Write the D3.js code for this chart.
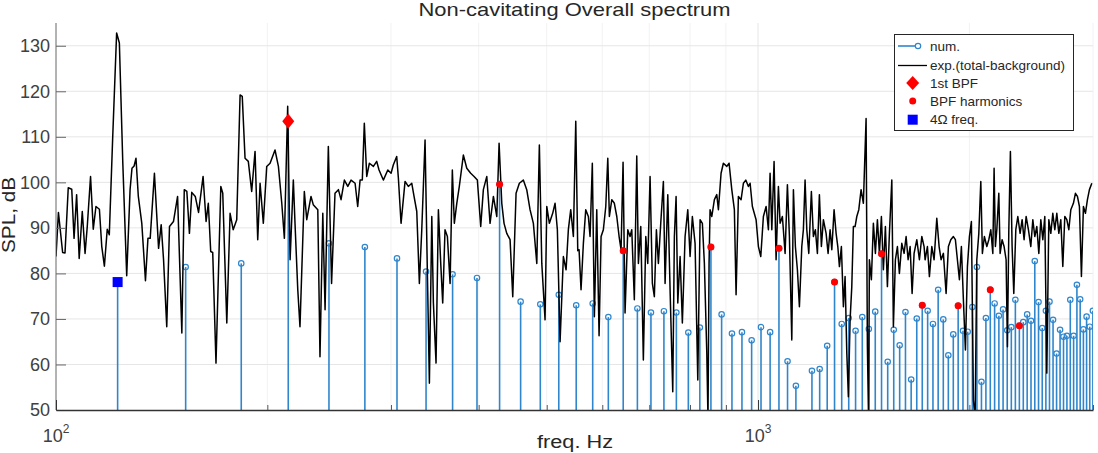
<!DOCTYPE html>
<html><head><meta charset="utf-8">
<script src="https://cdn.jsdelivr.net/npm/d3@7"></script>
<style>
html,body{margin:0;padding:0;background:#fff;}
svg{display:block;font-family:"Liberation Sans",Arial,Helvetica,sans-serif;}
</style></head><body>
<svg id="chart" width="1098" height="453"></svg>
<script>
// ---------------- DATA ----------------
const shaftFreq = 30.6; // Hz (Ω)
const numOrders = [4,5,6,7,8,9,10,11,12,13,14,15,16,17,18,19,20,21,22,23,24,25,26,27,28,29,30,31,32,33,
  34,35,36,37,38,39,40,41,42,43,44,45,46,47,48,49,50,51,52,53,54,55,56,57,58,59,60,61,62,63,
  64,65,66,67,68,69,70,71,72,73,74,75,76,77,78,79,80,81,82,83,84,85,86,87,88,89,90,91,92,93,94,95,96,97,98];
const numSPL = [78.1,81.4,82.2,113.4,86.6,85.8,83.3,80.4,79.8,79.0,
  99.6,73.8,73.2,75.3,73.0,73.4,70.4,85.0,72.3,71.4,
  71.7,71.4,67.0,68.1,85.8,71.0,66.8,67.1,65.3,68.2,
  67.1,85.5,60.7,55.3,48.0,58.6,59.0,64.1,78.1,68.9,
  70.2,67.4,70.4,67.8,71.6,84.3,60.6,67.6,64.2,71.5,
  56.7,70.1,73.0,71.8,68.9,76.4,69.9,62.0,66.6,72.9,
  67.4,67.2,72.6,81.4,56.2,70.2,76.4,73.4,70.7,72.1,
  67.5,68.2,74.2,68.5,69.3,71.0,69.6,82.7,73.7,68.0,
  71.8,73.8,69.8,62.4,67.6,66.1,66.3,74.2,66.3,77.5,74.3,67.7,70.5,68.3,71.8];

const bpf1Freq = [214.2];
const bpf1SPL = [113.4];
const bpfHarmFreq = [428.4,642.6,856.8,1071.0,1285.2,1499.4,1713.6,1927.8,2142.0,2356.2];
const bpfHarmSPL  = [99.6,85.0,85.8,85.5,78.1,84.3,73.0,72.9,76.4,68.5];
const fourOmegaFreq = [122.4];
const fourOmegaSPL = [78.1];

const expFreq = [100,100.8,102.2,103.0,104.1,105.3,106.1,107.0,107.9,109.0,110.0,110.8,112.0,113.0,114.0,115.3,116.2,117.2,118.3,119.1,
120.4,122.0,123.1,124.5,126.1,127.5,128.3,129.2,130.0,131.0,132.5,134.1,135.2,136.2,138.1,140.0,141.2,142.3,143.8,145.1,
147.0,149.0,151.1,152.3,153.6,154.9,156.1,157.9,159.6,162.0,163.6,164.8,166.1,167.2,169.0,171.7,172.8,175.1,177.0,178.8,
180.9,182.9,184.2,185.9,187.9,190.0,192.1,193.8,195.3,197.4,199.6,201.8,205.1,207.4,209.7,211.5,213.8,215.5,217.8,219.0,
221.0,222.6,225.8,227.6,230.8,232.5,236.0,237.7,239.9,241.7,244.3,246.9,249.7,252.5,254.7,257.5,260.4,263.2,266.7,269.0,
271.1,273.1,274.9,277.1,279.5,283.2,286.3,288.5,292.6,296.9,300.1,302.3,305.7,307.4,310.1,314.2,317.6,321.2,323.6,326.5,
329.3,331.9,335.5,338.0,340.3,343.0,344.8,347.8,350.5,353.2,355.5,358.2,361.0,364.2,366.9,369.3,372.3,375.4,380.4,384.7,
389.7,394.0,398.3,402.7,406.2,410.8,415.2,419.8,424.5,427.7,431.5,434.7,438.6,443.4,447.3,452.2,457.1,463.1,468.3,473.4,
478.6,484.0,488.1,492.0,497.3,500.1,504.4,509.9,513.9,517.8,522.4,528.1,532.8,536.8,541.0,545.7,550.0,553.6,556.0,559.6,
563.9,568.3,573.2,576.4,580.7,584.6,589.2,593.7,597.6,602.1,606.9,610.9,614.1,619.0,624.2,629.2,634.0,638.1,642.3,646.5,
652.3,657.2,660.9,666.5,671.8,675.4,680.7,686.5,692.0,696.5,701.8,707.1,711.7,716.5,721.2,726.8,733.1,737.2,743.8,749.4,
756.0,760.0,764.3,768.6,774.4,780.2,787.2,794.2,800.2,806.2,813.4,820.7,826.9,833.1,838.6,845.3,848.6,851.6,854.4,859.3,
866.6,873.4,878.1,885.8,892.5,902.6,909.4,917.5,925.3,930.5,937.6,945.9,953.1,960.6,968.9,974.3,981.6,993.6,1001.2,1009.0,
1017.7,1026.8,1034.6,1040.3,1046.2,1054.0,1061.0,1069.1,1075.0,1083.1,1092.8,1101.1,1108.4,1117.1,1123.0,1130.3,1137.8,1145.3,1154.3,1160.3,
1166.8,1173.4,1181.1,1191.2,1199.0,1206.9,1214.9,1222.9,1230.9,1239.0,1250.1,1258.3,1266.6,1273.7,1283.2,1291.8,1299.0,1305.9,1314.4,1323.1,
1330.4,1337.9,1344.9,1352.4,1360.0,1367.1,1374.8,1382.5,1391.6,1402.1,1412.7,1425.3,1431.4,1436.9,1440.8,1450.2,1459.8,1469.5,1479.2,1488.9,
1498.7,1508.5,1518.5,1528.5,1538.6,1550.8,1558.8,1569.1,1579.5,1589.8,1602.4,1614.5,1625.2,1635.9,1646.7,1657.5,1668.3,1683.3,1697.7,1711.1,
1723.9,1729.7,1742.9,1754.3,1768.2,1781.4,1797.3,1811.0,1822.8,1836.6,1853.0,1867.1,1881.7,1897.8,1910.4,1923.0,1935.7,1948.3,1961.1,1974.1,
1987.2,2000.3,2013.3,2026.6,2038.0,2049.4,2062.9,2076.4,2087.2,2100.9,2117.8,2131.7,2145.7,2159.8,2168.9,2178.3,2188.3,2202.7,2212.1,2226.7,
2241.2,2256.1,2265.8,2276.2,2288.1,2300.9,2313.6,2329.0,2344.4,2362.1,2377.7,2393.1,2409.1,2427.4,2446.4,2462.6,2478.7,2495.1,2511.6,2528.0,
2544.7,2561.3,2578.3,2595.3,2612.3,2629.5,2646.8,2664.3,2681.9,2699.4,2717.2,2735.0,2753.2,2771.3,2789.5,2813.4,2832.0,2850.7,2869.4,2888.2,
2907.2,2926.4,2945.7,2965.1,2988.5];
const expSPL = [83.7,93.4,84.6,84.5,98.8,98.5,87.7,97.3,83.3,93.6,84.4,90.3,101.3,89.7,94.7,94.1,85.9,81.6,89.7,88.5,
109.3,132.8,130.6,104.2,79.5,98.4,103.1,103.6,105.3,96.9,91.0,78.4,87.7,87.7,102.0,85.5,90.7,83.0,68.3,90.3,
91.4,96.9,66.9,98.4,98.0,88.8,97.8,96.9,93.4,101.3,91.4,95.4,84.8,84.6,60.3,99.1,97.6,69.1,93.2,89.6,
91.8,119.2,118.9,105.3,104.6,98.0,106.8,87.4,99.8,91.0,103.5,104.2,107.1,103.5,95.4,87.7,116.7,83.0,100.5,91.0,
76.4,68.3,98.0,91.8,96.9,95.1,94.0,61.7,93.2,72.0,107.9,77.8,97.6,98.4,96.2,100.5,99.1,100.5,99.8,94.7,
100.5,100.5,113.0,101.3,104.2,103.5,104.6,102.7,100.5,102.7,102.0,103.8,105.7,100.9,91.0,100.2,99.1,99.8,96.9,93.6,
77.8,89.6,109.3,80.8,55.9,92.5,73.5,60.3,94.0,82.2,73.5,89.6,88.1,77.8,102.7,91.0,95.4,99.1,106.0,103.1,
102.0,101.3,100.5,90.3,98.4,101.3,91.0,96.9,92.5,108.6,95.4,91.0,88.8,87.4,74.9,97.6,99.8,100.5,98.4,94.0,
91.0,82.2,108.2,82.2,69.8,94.7,91.0,93.2,95.4,89.6,65.0,83.7,80.8,89.6,94.0,88.1,113.4,85.0,85.2,76.4,
86.6,94.0,92.5,88.1,104.2,70.5,94.0,66.3,88.1,89.6,94.7,105.3,92.5,96.2,95.4,92.5,88.1,85.2,104.4,71.3,
89.6,88.1,89.6,74.2,105.8,82.2,90.3,61.0,88.1,82.2,101.3,77.8,74.9,89.6,82.2,91.0,100.2,77.8,97.3,76.4,
54.0,88.1,96.9,73.5,83.7,69.1,88.1,94.0,83.7,92.5,86.6,56.6,91.8,91.0,82.2,62.5,48.0,82.2,94.0,92.5,
96.2,97.3,94.0,102.0,104.2,103.5,104.2,98.4,94.0,75.3,96.9,96.2,99.8,100.5,99.1,99.8,94.7,91.8,85.9,83.7,
92.5,94.7,89.6,102.0,89.6,104.6,83.0,99.1,91.0,92.5,84.4,99.5,88.1,65.4,98.4,85.9,80.8,72.7,85.9,89.6,
100.5,89.6,84.4,98.0,88.1,89.6,84.4,97.3,85.9,91.8,88.8,84.4,89.6,85.2,94.0,88.8,85.9,81.5,85.9,72.7,
79.3,62.5,52.9,69.8,77.1,90.3,90.3,92.5,94.0,98.4,95.4,114.0,63.9,48.0,83.0,78.6,91.0,84.4,91.8,84.4,
92.5,80.8,90.3,77.1,88.8,100.5,68.3,83.0,85.9,80.0,86.6,84.4,88.1,83.0,85.9,75.6,84.4,87.4,83.0,88.1,
85.9,83.0,85.9,79.3,85.9,83.0,92.1,85.9,83.0,84.4,75.6,85.9,87.4,88.1,87.4,83.0,78.6,85.9,74.2,63.2,
81.5,88.1,91.4,52.2,48.0,83.0,88.8,100.2,84.4,88.1,85.9,87.4,89.6,84.4,103.1,85.9,89.6,97.6,84.4,87.4,
85.9,83.0,63.9,89.6,106.8,85.9,75.6,89.6,92.5,88.8,91.8,87.4,92.5,89.6,85.9,91.8,88.1,90.3,84.4,91.8,
87.4,92.5,58.1,91.8,88.8,93.2,89.6,93.2,88.8,91.8,81.5,92.5,91.8,89.6,94.0,95.4,97.6,96.9,94.7,79.3,
94.7,93.2,96.2,98.4,99.8];

const yTicks = [50,60,70,80,90,100,110,120,130];
const xMajorTicks = [100,1000];
const xMajorLabels = [["10","2"],["10","3"]];
const xMinorTicks = [200,300,400,500,600,700,800,900,2000,3000];
const legendLabels = ["num.","exp.(total-background)","1st BPF","BPF harmonics","4\u03A9 freq."];
const titleText = "Non-cavitating Overall spectrum";
const xLabelText = "freq. Hz";
const yLabelText = "SPL, dB";

// ---------------- LAYOUT ----------------
const W = 1098, H = 453;
const L = 56, R = 1093, T = 23, B = 410;
const stemColor = "#2f86cc";
const axisColor = "#404040";

const svg = d3.select("#chart");
const x = d3.scaleLog().domain([100, 3000]).range([L, R]);
const y = d3.scaleLinear().domain([50, 135]).range([B, T]);

svg.append("defs").append("clipPath").attr("id","plotclip")
  .append("rect").attr("x",L).attr("y",T).attr("width",R-L).attr("height",B-T);

// grid
const grid = svg.append("g");
grid.selectAll(".gxm").data(xMinorTicks).join("line")
  .attr("x1",d=>x(d)).attr("x2",d=>x(d)).attr("y1",T).attr("y2",B)
  .attr("stroke","#f2f2f2").attr("stroke-width",1);
grid.selectAll(".gxM").data(xMajorTicks.filter(d=>d>100)).join("line")
  .attr("x1",d=>x(d)).attr("x2",d=>x(d)).attr("y1",T).attr("y2",B)
  .attr("stroke","#e6e6e6").attr("stroke-width",1);
grid.selectAll(".gy").data(yTicks.filter(d=>d>50)).join("line")
  .attr("x1",L).attr("x2",R).attr("y1",d=>y(d)).attr("y2",d=>y(d))
  .attr("stroke","#e6e6e6").attr("stroke-width",1);

// stems (num.)
const numData = numOrders.map((n,i)=>({f:n*shaftFreq, v:numSPL[i]}));
const plot = svg.append("g").attr("clip-path","url(#plotclip)");
plot.selectAll(".stem").data(numData.filter(d=>d.v>50)).join("line")
  .attr("x1",d=>x(d.f)).attr("x2",d=>x(d.f))
  .attr("y1",y(50)).attr("y2",d=>y(d.v))
  .attr("stroke",stemColor).attr("stroke-width",1.6);
plot.selectAll(".mk").data(numData.filter(d=>d.v>50)).join("circle")
  .attr("cx",d=>x(d.f)).attr("cy",d=>y(d.v)).attr("r",2.7)
  .attr("fill","none").attr("stroke",stemColor).attr("stroke-width",1.2);

// experiment line
const expData = expFreq.map((f,i)=>({f, v:expSPL[i]}));
plot.append("path").datum(expData)
  .attr("d", d3.line().x(d=>x(d.f)).y(d=>y(d.v)))
  .attr("fill","none").attr("stroke","#000").attr("stroke-width",1.5)
  .attr("stroke-linejoin","round");

// markers
const diamond = (cx,cy,hw,hh)=>`M${cx},${cy-hh}L${cx+hw},${cy}L${cx},${cy+hh}L${cx-hw},${cy}Z`;
svg.selectAll(".bpf1").data(bpf1Freq.map((f,i)=>({f,v:bpf1SPL[i]}))).join("path")
  .attr("d",d=>diamond(x(d.f),y(d.v),6,7.5)).attr("fill","#ff0000");
svg.selectAll(".harm").data(bpfHarmFreq.map((f,i)=>({f,v:bpfHarmSPL[i]}))).join("circle")
  .attr("cx",d=>x(d.f)).attr("cy",d=>y(d.v)).attr("r",3.5).attr("fill","#ff0000");
svg.selectAll(".fo").data(fourOmegaFreq.map((f,i)=>({f,v:fourOmegaSPL[i]}))).join("rect")
  .attr("x",d=>x(d.f)-5).attr("y",d=>y(d.v)-5).attr("width",10).attr("height",10).attr("fill","#0000ff");

// axes
const yAxis = svg.append("g").attr("transform",`translate(${L},0)`)
  .call(d3.axisLeft(y).tickValues(yTicks).tickSizeInner(-10).tickSizeOuter(0).tickPadding(6));
yAxis.select(".domain").attr("stroke","#666").attr("d",`M0,${B}V${T}`);
yAxis.selectAll(".tick line").attr("stroke","#666");
yAxis.selectAll(".tick text").attr("font-size",18).attr("fill",axisColor)
  .attr("font-family","'Liberation Sans',Arial,sans-serif");

const xAxis = svg.append("g").attr("transform",`translate(0,${B})`)
  .call(d3.axisBottom(x).tickValues(xMajorTicks).tickSizeInner(-10).tickSizeOuter(0).tickFormat(""));
xAxis.select(".domain").attr("stroke","#333").attr("stroke-width",1.3);
xAxis.selectAll(".tick line").attr("stroke","#333");
const xMinor = svg.append("g").attr("transform",`translate(0,${B})`)
  .call(d3.axisBottom(x).tickValues(xMinorTicks).tickSizeInner(-5).tickSizeOuter(0).tickFormat(""));
xMinor.select(".domain").remove();
xMinor.selectAll(".tick line").attr("stroke","#555");

const xl = svg.append("g").selectAll("text").data(xMajorTicks).join("text")
  .attr("x",d=>x(d)).attr("y",442).attr("text-anchor","middle")
  .attr("font-size",18).attr("fill",axisColor);
xl.append("tspan").text((d,i)=>xMajorLabels[i][0]);
xl.append("tspan").attr("dy",-9).attr("font-size",12).text((d,i)=>xMajorLabels[i][1]);

// title & labels
svg.append("text").attr("x",574.5).attr("y",15.5).attr("text-anchor","middle")
  .attr("font-size",19).attr("font-weight","normal").attr("fill","#262626")
  .attr("textLength",312).attr("lengthAdjust","spacingAndGlyphs").text(titleText);
svg.append("text").attr("x",575).attr("y",448).attr("text-anchor","middle")
  .attr("font-size",18).attr("fill","#262626")
  .attr("textLength",76).attr("lengthAdjust","spacingAndGlyphs").text(xLabelText);
svg.append("text").attr("transform","translate(15,215) rotate(-90)").attr("text-anchor","middle")
  .attr("font-size",18).attr("fill","#262626")
  .attr("textLength",76).attr("lengthAdjust","spacingAndGlyphs").text(yLabelText);

// legend
const lg = svg.append("g");
lg.append("rect").attr("x",894.5).attr("y",34.5).attr("width",179).attr("height",96)
  .attr("fill","#fff").attr("stroke","#262626").attr("stroke-width",1);
const rowsY = [46,65.5,83,101,119.7];
lg.selectAll("text").data(legendLabels).join("text")
  .attr("x",930).attr("y",(d,i)=>rowsY[i]).attr("dy","0.35em")
  .attr("font-size",13.5).attr("fill","#262626").text(d=>d);
lg.append("line").attr("x1",898).attr("x2",918).attr("y1",rowsY[0]).attr("y2",rowsY[0])
  .attr("stroke",stemColor).attr("stroke-width",1.6);
lg.append("circle").attr("cx",918).attr("cy",rowsY[0]).attr("r",2.7)
  .attr("fill","#fff").attr("stroke",stemColor).attr("stroke-width",1.2);
lg.append("line").attr("x1",898).attr("x2",927).attr("y1",rowsY[1]).attr("y2",rowsY[1])
  .attr("stroke","#000").attr("stroke-width",1.3);
lg.append("path").attr("d",diamond(912.7,rowsY[2],6.5,7)).attr("fill","#ff0000");
lg.append("circle").attr("cx",912.7).attr("cy",rowsY[3]).attr("r",3.5).attr("fill","#ff0000");
lg.append("rect").attr("x",907.7).attr("y",rowsY[4]-5).attr("width",10).attr("height",10).attr("fill","#0000ff");
</script>
</body></html>
